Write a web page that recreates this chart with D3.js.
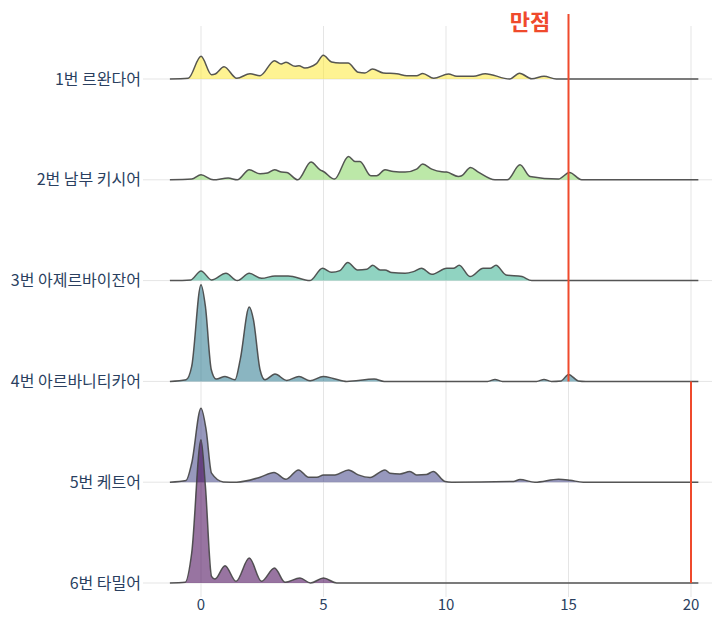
<!DOCTYPE html>
<html>
<head>
<meta charset="utf-8">
<script src="https://cdn.jsdelivr.net/npm/d3@7"></script>
<style>
  html, body { margin: 0; padding: 0; background: #fff; }
  svg { display: block; }
  text { font-family: "Noto Sans CJK KR", "Noto Sans", sans-serif; }
</style>
</head>
<body>
<svg id="chart" width="715" height="635"></svg>
<script>
// ---------- data ----------
const categories = ["1번 르완다어", "2번 남부 키시어", "3번 아제르바이잔어", "4번 아르바니티카어", "5번 케트어", "6번 타밀어"];
const colors = ["#fde725", "#7ad151", "#22a884", "#2a788e", "#414487", "#440154"];
const xTicks = [0, 5, 10, 15, 20];
const fullScoreLabel = "만점";
const fullScores = [15, 15, 15, 15, 20, 20];

// density curves (x score, relative density height) per category
const s1x = [-1.27, -0.52, 0, 0.43, 0.58, 0.94, 1.46, 2.0, 2.41, 3.0, 3.27, 3.47, 3.84, 4.0, 4.24, 4.71, 4.99, 5.33, 5.67, 6.0, 6.42, 6.69, 7.0, 7.44, 7.99, 8.4, 8.8, 9.05, 9.5, 10.1, 10.44, 11.12, 11.6, 12.6, 13.0, 13.5, 14.0, 14.5, 20.3];
const s1y = [0, 0.7, 22.7, 4.3, 5, 12.3, 0.7, 5.3, 3.3, 18.3, 15, 16.7, 12.7, 13.3, 11, 15.3, 23.7, 17, 16, 16, 6.7, 6, 10, 6, 5.3, 3.3, 3.3, 5.5, 0.7, 5, 2.7, 2.7, 5.3, 0, 5.7, 0.3, 2.7, 0, 0];

const s2x = [-1.27, -0.38, 0, 0.5, 1.11, 1.48, 1.97, 2.41, 2.71, 3.0, 3.29, 3.5, 3.95, 4.49, 4.86, 5.0, 5.45, 6.02, 6.29, 6.49, 6.93, 7.17, 7.51, 7.85, 8.33, 8.8, 9.05, 9.42, 9.83, 10.03, 10.5, 10.64, 11.0, 11.32, 12.0, 12.5, 13.02, 13.43, 14.59, 15.04, 15.54, 20.3];
const s2y = [0, 0.7, 5, 0, 1.7, 0, 10, 6, 6.7, 10, 7.7, 7.3, 0, 17.7, 10, 8.3, 0.7, 23.3, 18.3, 18.3, 4, 4, 10, 8.3, 7.7, 10.7, 15.7, 10.7, 8, 7.7, 3.3, 4, 12.3, 7.7, 0, 0, 15, 3.3, 0.7, 7.3, 0, 0];

const s3x = [-1.27, -0.42, 0, 0.43, 1.02, 1.48, 1.97, 2.47, 3.02, 3.56, 4.45, 4.96, 5.33, 5.67, 5.99, 6.39, 6.77, 7.01, 7.31, 7.51, 7.78, 8.33, 8.67, 9.0, 9.42, 10.03, 10.3, 10.54, 10.98, 11.52, 11.8, 12.04, 12.45, 13.1, 13.5, 20.3];
const s3y = [0, 0.7, 9.7, 0.7, 7.3, 0, 7.3, 2.3, 4.7, 4.7, 0, 12.3, 8.3, 10, 18, 10.7, 11.3, 15.3, 10.7, 10.7, 8, 7.3, 9, 12.3, 6.3, 12.3, 12.3, 15.3, 4, 12.3, 12.3, 15.3, 5.7, 4, 0, 0];

const s4x = [-1.27, -0.61, -0.38, 0, 0.18, 0.42, 0.62, 0.98, 1.39, 1.6, 1.97, 2.14, 2.41, 2.61, 3.02, 3.5, 4.0, 4.45, 4.99, 5.4, 5.95, 7.07, 7.48, 11.7, 12.0, 12.3, 13.7, 14.0, 14.3, 14.7, 15.0, 15.4, 15.7, 20.3];
const s4y = [0, 1.7, 15, 96.7, 75, 11.7, 2.3, 5, 1.7, 21.7, 74.3, 61.7, 11.7, 1.7, 7.3, 1, 5, 0.7, 5, 3, 0, 2.3, 0, 0, 2, 0, 0, 2, 0, 0.5, 7, 0.5, 0, 0];

const s5x = [-1.27, -0.61, -0.38, 0, 0.21, 0.43, 0.91, 1.46, 2.41, 2.98, 3.47, 3.98, 4.39, 4.73, 5.0, 5.47, 6.02, 6.42, 6.9, 7.51, 7.71, 8.12, 8.53, 8.8, 9.2, 9.48, 9.96, 10.23, 12.75, 13.02, 13.63, 14.59, 15.06, 15.6, 20.3];
const s5y = [0, 1.7, 19, 74, 52.3, 9, 0.3, 0, 5, 9.7, 3, 12.3, 5, 5, 7.3, 7.3, 12.3, 7.3, 4.7, 12.3, 9, 8.3, 10.7, 7.3, 7.7, 10.7, 0.7, 0, 0.7, 2.7, 0, 3, 2, 0, 0];

const s6x = [-1.27, -0.65, -0.38, 0, 0.18, 0.43, 0.57, 0.98, 1.43, 1.97, 2.47, 3.0, 3.43, 4.04, 4.47, 5.0, 5.54, 20.3];
const s6y = [0, 0.7, 30, 143.3, 96.7, 6.7, 4, 17.3, 1.7, 25, 1.7, 15, 0.7, 5, 0, 5, 0, 0];

const seriesX = [s1x, s2x, s3x, s4x, s5x, s6x];
const seriesY = [s1y, s2y, s3y, s4y, s5y, s6y];

// ---------- layout ----------
const svg = d3.select("#chart");
const plot = { left: 143, right: 712, top: 26, bottom: 597 };

const x = d3.scaleLinear().domain([0, 20]).range([201, 691]);
const y = d3.scalePoint().domain(categories).range([79, 583]);
const h = d3.scaleLinear().domain([0, 100]).range([0, 100]);

// vertical grid
svg.append("g").selectAll("line").data(xTicks).join("line")
  .attr("x1", d => x(d)).attr("x2", d => x(d))
  .attr("y1", plot.top).attr("y2", plot.bottom)
  .attr("stroke", "#e5e5e5").attr("stroke-width", 1);

// horizontal grid (baselines)
svg.append("g").selectAll("line").data(categories).join("line")
  .attr("x1", plot.left).attr("x2", plot.right)
  .attr("y1", d => y(d)).attr("y2", d => y(d))
  .attr("stroke", "#e5e5e5").attr("stroke-width", 1);

// ridges
const gR = svg.append("g");
categories.forEach((c, i) => {
  const pts = seriesX[i].map((v, k) => [v, seriesY[i][k]]);
  const base = y(c);
  const area = d3.area().x(d => x(d[0])).y0(base).y1(d => base - h(d[1])).curve(d3.curveMonotoneX);
  const line = d3.line().x(d => x(d[0])).y(d => base - h(d[1])).curve(d3.curveMonotoneX);
  gR.append("path").attr("d", area(pts))
    .attr("fill", colors[i]).attr("fill-opacity", i < 3 ? 0.5 : 0.55);
  gR.append("path").attr("d", line(pts))
    .attr("fill", "none").attr("stroke", "#444").attr("stroke-opacity", 0.9)
    .attr("stroke-width", 1.5).attr("stroke-linejoin", "round");
});

// full score lines
const red = "#ef4a2c";
svg.append("line")
  .attr("x1", x(fullScores[0])).attr("x2", x(fullScores[0]))
  .attr("y1", 14).attr("y2", y(categories[3]))
  .attr("stroke", red).attr("stroke-width", 2);
svg.append("line")
  .attr("x1", x(fullScores[4])).attr("x2", x(fullScores[4]))
  .attr("y1", y(categories[3])).attr("y2", y(categories[5]))
  .attr("stroke", red).attr("stroke-width", 2);
svg.append("text")
  .attr("x", 530).attr("y", 30)
  .attr("text-anchor", "middle")
  .attr("font-size", 22).attr("font-weight", "bold")
  .attr("fill", red).text(fullScoreLabel);

// y labels
svg.append("g").selectAll("text").data(categories).join("text")
  .attr("x", 141).attr("y", d => y(d))
  .attr("dy", "0.35em").attr("text-anchor", "end")
  .attr("font-size", 16).attr("fill", "#2a3f5f").text(d => d);

// x tick labels
svg.append("g").selectAll("text").data(xTicks).join("text")
  .attr("x", d => x(d)).attr("y", 610)
  .attr("text-anchor", "middle")
  .attr("font-size", 15).attr("fill", "#2a3f5f").text(d => d);
</script>
</body>
</html>
